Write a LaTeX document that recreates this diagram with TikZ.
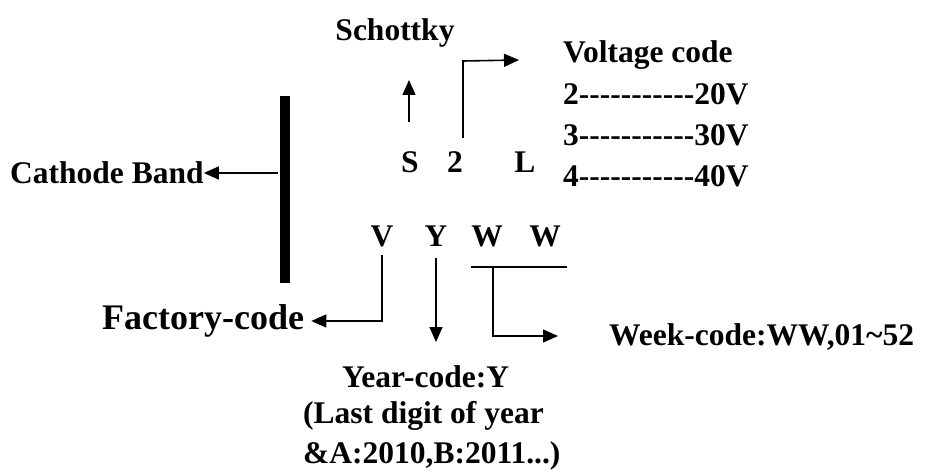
\documentclass[tikz,border=0pt]{standalone}
\usepackage{fontspec}
\setmainfont{Liberation Serif}[Ligatures=TeXOff]
\usetikzlibrary{arrows.meta}
\begin{document}
\begin{tikzpicture}[x=1pt,y=-1pt,
  lbl/.style={font=\bfseries\fontsize{31.5}{36}\selectfont, inner sep=0pt, anchor=base west},
  big/.style={font=\bfseries\fontsize{36}{40}\selectfont, inner sep=0pt, anchor=base west},
  con/.style={line width=1.6pt},
  arr/.style={con, -{Triangle[length=15pt,width=13pt]}}]
\useasboundingbox (0,0) rectangle (927,476);
% band
\fill (280,96) rectangle (290,283);
\coordinate (bandL) at (278,173);
\node[lbl] (cb) at (10,183) {Cathode Band};
\draw[arr] (bandL) -- (cb.east |- bandL);
% top
\node[lbl, anchor=base] (sch) at (395,41) {Schottky};
\node[lbl, anchor=base] (S) at (410,173) {S};
\node[lbl, anchor=base] (two) at (455,173) {2};
\node[lbl, anchor=base] (L) at (525,173) {L};
\coordinate (supb) at (409,122);
\coordinate (supt) at (409,80);
\draw[arr] (supb) -- (supt);
\coordinate (vb) at (463,138);
\coordinate (vc) at (463,61);
\coordinate (vt) at (519,60);
\draw[arr] (vb) -- (vc) -- (vt);
\node[lbl] (vcode) at (563,63) {Voltage code};
\node[lbl] (v2) at (563,105) {2-----------20V};
\node[lbl] (v3) at (563,146) {3-----------30V};
\node[lbl] (v4) at (563,186) {4-----------40V};
% bottom
\node[lbl, anchor=base] (V) at (382,247) {V};
\node[lbl, anchor=base] (Y) at (436,247) {Y};
\node[lbl, anchor=base] (W1) at (487,247) {W};
\node[lbl, anchor=base] (W2) at (545,247) {W};
\node[big] (fc) at (102,329) {Factory-code};
\coordinate (vt1) at (382,255);
\coordinate (vt2) at (382,321);
\draw[arr] (vt1) -- (vt2) -- ([xshift=7pt]fc.east |- vt2);
\coordinate (yt) at (436,258);
\coordinate (yb) at (436,342);
\draw[arr] (yt) -- (yb);
\coordinate (wl) at (471,267);
\coordinate (wr) at (567,267);
\draw[con] (wl) -- (wr);
\coordinate (wd) at (493,267);
\coordinate (wc) at (493,336);
\node[lbl] (wk) at (609,345) {Week-code:WW,01\textasciitilde52};
\draw[arr] (wd) -- (wc) -- ([xshift=-51pt]wk.west |- wc);
\node[lbl] (y1) at (342,387) {Year-code:Y};
\node[lbl] (y2) at (303,423) {(Last digit of year};
\node[lbl] (y3) at (303,463) {\&A:2010,B:2011...)};
\end{tikzpicture}
\end{document}
